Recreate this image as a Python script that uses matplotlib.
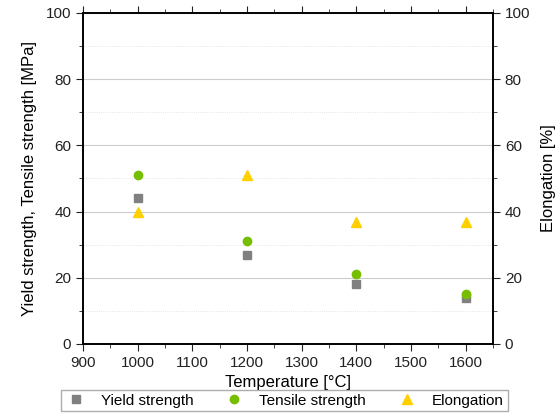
import matplotlib
matplotlib.use('agg')
import matplotlib.pyplot as plt
from matplotlib.ticker import MultipleLocator

plt.rcParams['font.family'] = ['Liberation Sans', 'DejaVu Sans']

# data
temperature = [1000, 1200, 1400, 1600]
yield_strength = [44, 27, 18, 14]
tensile_strength = [51, 31, 21, 15]
elongation = [40, 51, 37, 37]

fig = plt.figure(figsize=(5.57, 4.19), dpi=100)
ax = fig.add_axes([0.149, 0.179, 0.736, 0.790])
ax2 = ax.twinx()

l1, = ax.plot(temperature, yield_strength, ls='none', marker='s', ms=5.5, color='#808080', label='Yield strength')
l2, = ax.plot(temperature, tensile_strength, ls='none', marker='o', ms=6, color='#77BE00', label='Tensile strength')
l3, = ax2.plot(temperature, elongation, ls='none', marker='^', ms=7, color='#FFD000', label='Elongation')

ax.set_xlim(900, 1650)
ax.set_ylim(0, 100)
ax2.set_ylim(0, 100)

ax.xaxis.set_major_locator(MultipleLocator(100))
ax.xaxis.set_minor_locator(MultipleLocator(50))
for a in (ax, ax2):
    a.yaxis.set_major_locator(MultipleLocator(20))
    a.yaxis.set_minor_locator(MultipleLocator(10))

ax.grid(which='major', axis='y', color='#cccccc', lw=0.8)
ax.grid(which='minor', axis='y', color='#dddddd', lw=0.6, ls=':')
ax.set_axisbelow(True)

ax.tick_params(which='both', direction='out', top=True, labelsize=11, colors='#222222')
ax.tick_params(which='major', length=5)
ax.tick_params(which='minor', length=3)
ax2.tick_params(which='both', direction='out', labelsize=11, colors='#222222')
ax2.tick_params(which='major', length=5)
ax2.tick_params(which='minor', length=3)

for a in (ax, ax2):
    for s in a.spines.values():
        s.set_linewidth(1.2)

ax.set_xlabel('Temperature [°C]', fontsize=12, labelpad=4)
ax.set_ylabel('Yield strength, Tensile strength [MPa]', fontsize=12, labelpad=6)
ax2.set_ylabel('Elongation [%]', fontsize=12, labelpad=8)

leg = fig.legend(handles=[l1, l2, l3], loc='lower center', bbox_to_anchor=(0.510, 0.0),
                 ncol=3, fontsize=11, frameon=True, fancybox=False, edgecolor='#999999',
                 handlelength=1.5, columnspacing=1.9, borderpad=0.25, handletextpad=0.9)
leg.get_frame().set_linewidth(1.0)

fig.savefig('out.png', dpi=100)
